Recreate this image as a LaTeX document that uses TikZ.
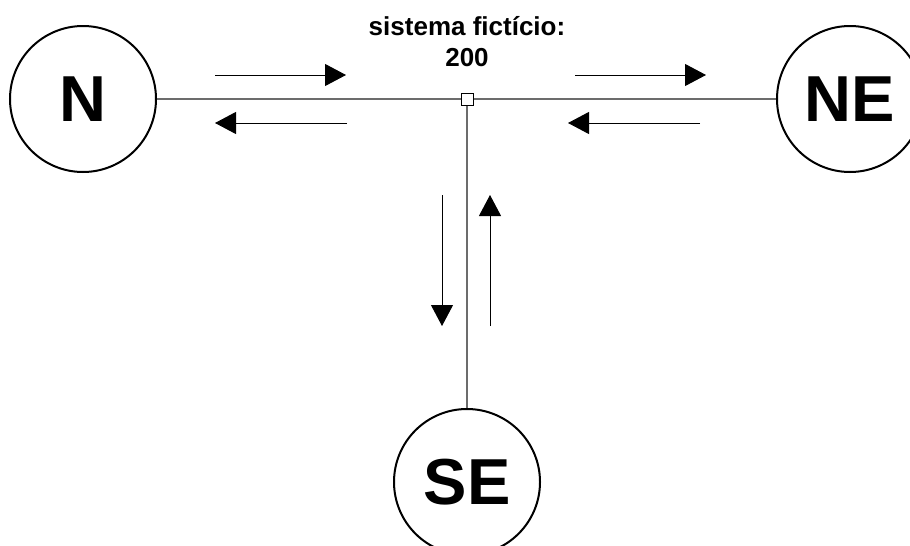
\documentclass[tikz,border=0pt]{standalone}
\usepackage{fontspec}
\setmainfont{Liberation Sans}
\usetikzlibrary{arrows.meta}
\tikzset{
  bus/.style={circle, draw=black, line width=2pt, minimum size=146pt, inner sep=0pt,
    font=\fontsize{65}{65}\selectfont\bfseries},
  link/.style={draw=gray!85!black, line width=1.5pt},
  flow/.style={draw=black, line width=1pt, -{Triangle[length=21pt,width=22pt]}},
}
\begin{document}
\begin{tikzpicture}[x=1pt, y=-1pt]
  \useasboundingbox (0,0) rectangle (910,546);
  \clip (0,0) rectangle (910,546);
  % buses
  \node[bus] (N)  at (83,99)  {N};
  \node[bus] (NE) at (850,99) {NE};
  \node[bus] (SE) at (467,482) {SE};
  % fictitious node
  \node[draw=black, fill=white, line width=1pt, minimum size=12pt, inner sep=0pt] (F) at (467,99) {};
  \node[font=\fontsize{26}{31}\selectfont\bfseries, align=center] (lbl) at (467,42) {sistema fictício:\\200};
  % lines
  \path[link] (N.east) -- (F.west);
  \path[link] (F.east) -- (NE.west);
  \path[link] (F.south) -- (SE.north);
  % flow arrows
  \coordinate (a1) at (215,75);  \coordinate (b1) at (346,75);
  \coordinate (a2) at (347,123); \coordinate (b2) at (215,123);
  \coordinate (a3) at (575,75);  \coordinate (b3) at (706,75);
  \coordinate (a4) at (700,123); \coordinate (b4) at (568,123);
  \coordinate (a5) at (442,195); \coordinate (b5) at (442,326);
  \coordinate (a6) at (490,326); \coordinate (b6) at (490,195);
  \draw[flow] (a1) -- (b1);
  \draw[flow] (a2) -- (b2);
  \draw[flow] (a3) -- (b3);
  \draw[flow] (a4) -- (b4);
  \draw[flow] (a5) -- (b5);
  \draw[flow] (a6) -- (b6);
\end{tikzpicture}
\end{document}
